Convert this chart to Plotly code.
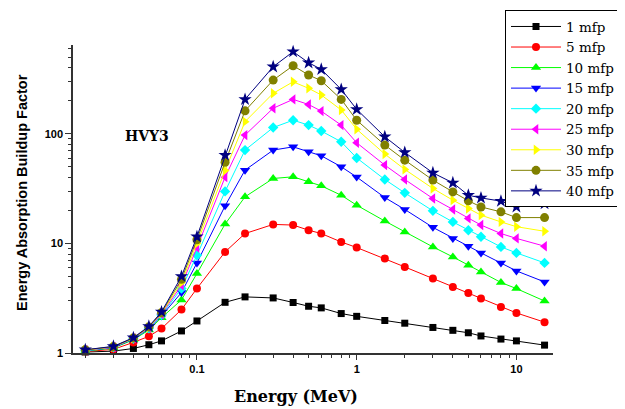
import plotly.graph_objects as go

energy = [0.02, 0.03, 0.04, 0.05, 0.06, 0.08, 0.1, 0.15, 0.2, 0.3, 0.4, 0.5,
          0.6, 0.8, 1, 1.5, 2, 3, 4, 5, 6, 8, 10, 15]

mfp1 = [1.02, 1.04, 1.10, 1.19, 1.29, 1.59, 1.96, 2.90, 3.25, 3.18, 2.89, 2.67,
        2.58, 2.29, 2.16, 1.98, 1.87, 1.71, 1.61, 1.53, 1.43, 1.34, 1.29, 1.18]
mfp5 = [1.03, 1.08, 1.25, 1.42, 1.67, 2.49, 3.88, 8.36, 12.3, 14.9, 14.7, 13.2,
        12.3, 10.3, 9.17, 7.28, 6.10, 4.78, 4.01, 3.53, 3.14, 2.63, 2.32, 1.91]
mfp10 = [1.04, 1.11, 1.32, 1.62, 2.10, 3.05, 5.31, 15.0, 26.6, 39.1, 40.5, 36.5,
         33.5, 27.5, 22.3, 16.0, 12.7, 9.29, 7.53, 6.32, 5.49, 4.40, 3.87, 2.98]
mfp15 = [1.05, 1.12, 1.34, 1.66, 2.18, 3.56, 6.64, 22.0, 46.6, 71.0, 76.0, 68.5,
         63.0, 50.0, 40.3, 26.2, 20.4, 14.0, 11.1, 9.43, 8.19, 6.64, 5.61, 4.45]
mfp20 = [1.05, 1.13, 1.35, 1.68, 2.22, 3.88, 7.8, 29.8, 71.0, 114, 133, 120,
         106, 84.5, 60.2, 38.3, 28.9, 19.8, 15.7, 13.2, 11.5, 9.29, 8.19, 6.64]
mfp25 = [1.06, 1.13, 1.36, 1.70, 2.26, 4.15, 9.17, 40.2, 97.3, 171, 206, 185,
         161, 120, 82.8, 51.8, 38.3, 25.7, 20.4, 16.9, 14.7, 12.3, 11.1, 9.43]
mfp30 = [1.06, 1.14, 1.36, 1.72, 2.30, 4.4, 10.0, 46.3, 129, 234, 298, 260,
         226, 165, 110, 65.3, 47.3, 31.7, 24.8, 20.8, 18.1, 15.7, 14.2, 12.9]
mfp35 = [1.07, 1.14, 1.37, 1.73, 2.33, 4.7, 10.8, 55.0, 162, 309, 418, 344,
         305, 206, 133, 78.9, 57.5, 37.8, 29.5, 24.5, 21.5, 19.4, 17.2, 17.2]
mfp40 = [1.07, 1.15, 1.38, 1.75, 2.37, 5.0, 11.5, 63.8, 206, 409, 561, 445,
         387, 254, 167, 93.9, 67.6, 44.0, 35.7, 27.5, 26.0, 24.3, 21.5, 23.1]

series_names = ["1 mfp", "5 mfp", "10 mfp", "15 mfp", "20 mfp",
                "25 mfp", "30 mfp", "35 mfp", "40 mfp"]
series_values = [mfp1, mfp5, mfp10, mfp15, mfp20, mfp25, mfp30, mfp35, mfp40]
colors = ["#000000", "#FF0000", "#00FF00", "#0000FF", "#00FFFF",
          "#FF00FF", "#FFFF00", "#808000", "#000080"]
symbols = ["square", "circle", "triangle-up", "triangle-down", "diamond",
           "triangle-left", "triangle-right", "circle", "star"]
sizes = [7, 8, 9, 9, 8, 9, 9, 9, 10]

fig = go.Figure()
for name, vals, c, s, sz in zip(series_names, series_values, colors, symbols, sizes):
    fig.add_trace(go.Scatter(
        x=energy, y=vals, name=name, mode="lines+markers",
        line=dict(color=c, width=1),
        marker=dict(color=c, symbol=s, size=sz, line=dict(width=0)),
        cliponaxis=False,
    ))

tickfont = dict(family="Liberation Sans", size=11, color="black", weight="bold")

fig.update_layout(
    width=617, height=401,
    margin=dict(l=65, r=72, t=37, b=56, autoexpand=False),
    paper_bgcolor="white", plot_bgcolor="white",
    showlegend=True,
    legend=dict(
        x=0.9, y=1.113, xanchor="left", yanchor="top",
        bordercolor="black", borderwidth=1, bgcolor="white",
        font=dict(family="DejaVu Serif", size=13.5, color="black"),
        tracegroupgap=0, itemwidth=50,
    ),
    xaxis=dict(
        type="log", range=[-1.776, 1.229],
        showline=True, linecolor="#333333", linewidth=1.5,
        showgrid=False, zeroline=False, mirror=False,
        ticks="outside", ticklen=5, tickcolor="#333333",
        dtick=1, tickfont=tickfont,
        minor=dict(ticks="outside", ticklen=3, tickcolor="#333333", showgrid=False),
    ),
    yaxis=dict(
        type="log", range=[0, 2.81],
        showline=True, linecolor="#333333", linewidth=1.5,
        showgrid=False, zeroline=False, mirror=False,
        ticks="outside", ticklen=6, tickcolor="#333333",
        dtick=1, tickfont=tickfont,
        minor=dict(ticks="outside", ticklen=3, tickcolor="#333333", showgrid=False),
    ),
    annotations=[
        dict(text="HVY3", xref="paper", yref="paper", x=0.154, y=0.705,
             xanchor="center", yanchor="middle", showarrow=False,
             font=dict(family="DejaVu Serif", size=14, color="black", weight="bold")),
        dict(text="Energy (MeV)", xref="paper", yref="paper", x=0.465, y=-0.142,
             xanchor="center", yanchor="middle", showarrow=False,
             font=dict(family="DejaVu Serif", size=16, color="black", weight="bold")),
        dict(text="Energy Absorption Buildup Factor", xref="paper", yref="paper",
             x=-0.106, y=0.52, xanchor="center", yanchor="middle", showarrow=False,
             textangle=-90,
             font=dict(family="Liberation Sans Narrow, Liberation Sans", size=14.5,
                       color="black", weight="bold")),
    ],
)

fig.write_html("out.html")
